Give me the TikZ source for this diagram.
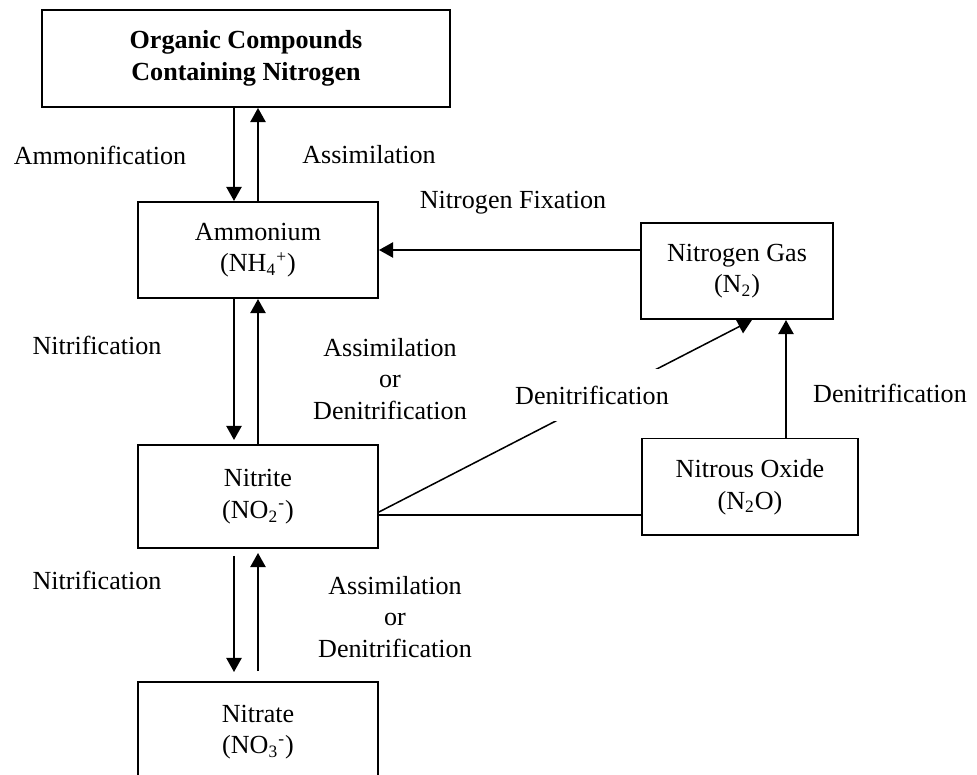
\documentclass[tikz,border=0pt]{standalone}
\usepackage{fontspec}
\setmainfont{Liberation Serif}
\usetikzlibrary{arrows.meta, calc, positioning}

\begin{document}
\begin{tikzpicture}[x=0.46pt, y=-0.46pt, line width=0.9pt,
        font=\fontsize{12}{14.5}\selectfont,
        box/.style = {draw, align=center, inner sep=0pt},
        flow/.style = {-{Triangle[length=6.5pt, width=7pt]}},
        lbl/.style = {align=center}]
        \useasboundingbox (0,0) rectangle (977,775);
        % compartments
        \node[box, minimum width=187.7pt, minimum height=44.6pt, font=\fontsize{12}{14.5}\selectfont\bfseries] (org) at (246,58.5) {Organic Compounds\\Containing Nitrogen};
        \node[box, minimum width=110.4pt, minimum height=44.2pt] (amm) at (258,250) {Ammonium\\(NH\textsubscript{4}\textsuperscript{+})};
        \node[box, minimum width=110.4pt, minimum height=47.4pt] (nit) at (258,496.5) {Nitrite\\(NO\textsubscript{2}\textsuperscript{-})};
        \node[box, minimum width=110.4pt, minimum height=46pt] (nat) at (258,732) {Nitrate\\(NO\textsubscript{3}\textsuperscript{-})};
        \node[box, minimum width=88.3pt, minimum height=44.2pt] (gas) at (737,271) {Nitrogen Gas\\(N\textsubscript{2})};
        \node[box, minimum width=99.4pt, minimum height=44.6pt] (nox) at (750,487) {Nitrous Oxide\\(N\textsubscript{2}O)};
        % organic <-> ammonium
        \coordinate (a1) at ($(amm.north)+(-24,0)$);
        \draw[flow] (a1 |- org.south) -- (a1);
        \draw[flow] (amm.north) -- (amm.north |- org.south);
        % ammonium <-> nitrite
        \coordinate (b1) at ($(nit.north)+(-24,-4)$);
        \draw[flow] (b1 |- amm.south) -- (b1);
        \draw[flow] (nit.north) -- (nit.north |- amm.south);
        % nitrite <-> nitrate
        \coordinate (c1) at ($(nat.north)+(-24,-9)$);
        \coordinate (c2) at ($(nit.south)+(-24,7)$);
        \coordinate (c3) at ($(nat.north)+(0,-10)$);
        \coordinate (c4) at ($(nit.south)+(0,4)$);
        \draw[flow] (c2) -- (c1);
        \draw[flow] (c3) -- (c4);
        % nitrogen gas
        \draw[flow] (gas.west |- amm.east) -- (amm.east);
        \coordinate (d1) at ($(nox.north)+(36,0)$);
        \draw[flow] (d1) -- (d1 |- gas.south);
        \coordinate (e1) at ($(nit.east)+(0,18.5)$);
        \draw (e1) -- (e1 -| nox.west);
        \coordinate (f1) at ($(nit.east)+(0,15.5)$);
        \coordinate (f2) at ($(gas.south)+(15,0)$);
        \draw[flow, line width=0.7pt] (f1) -- (f2);
        % labels
        \node (l1) at (100,155) {Ammonification};
        \node (l2) at (369,155) {Assimilation};
        \node (l3) at (513,203) {Nitrogen Fixation};
        \node (l4) at (97,345) {Nitrification};
        \node[lbl] (l5) at (390,379) {Assimilation\\or\\Denitrification};
        \node[fill=white, inner ysep=7.5pt] (l6) at (592,395) {Denitrification};
        \node (l7) at (890,393) {Denitrification};
        \node (l8) at (97,580) {Nitrification};
        \node[lbl] (l9) at (395,617) {Assimilation\\or\\Denitrification};
\end{tikzpicture}
\end{document}
